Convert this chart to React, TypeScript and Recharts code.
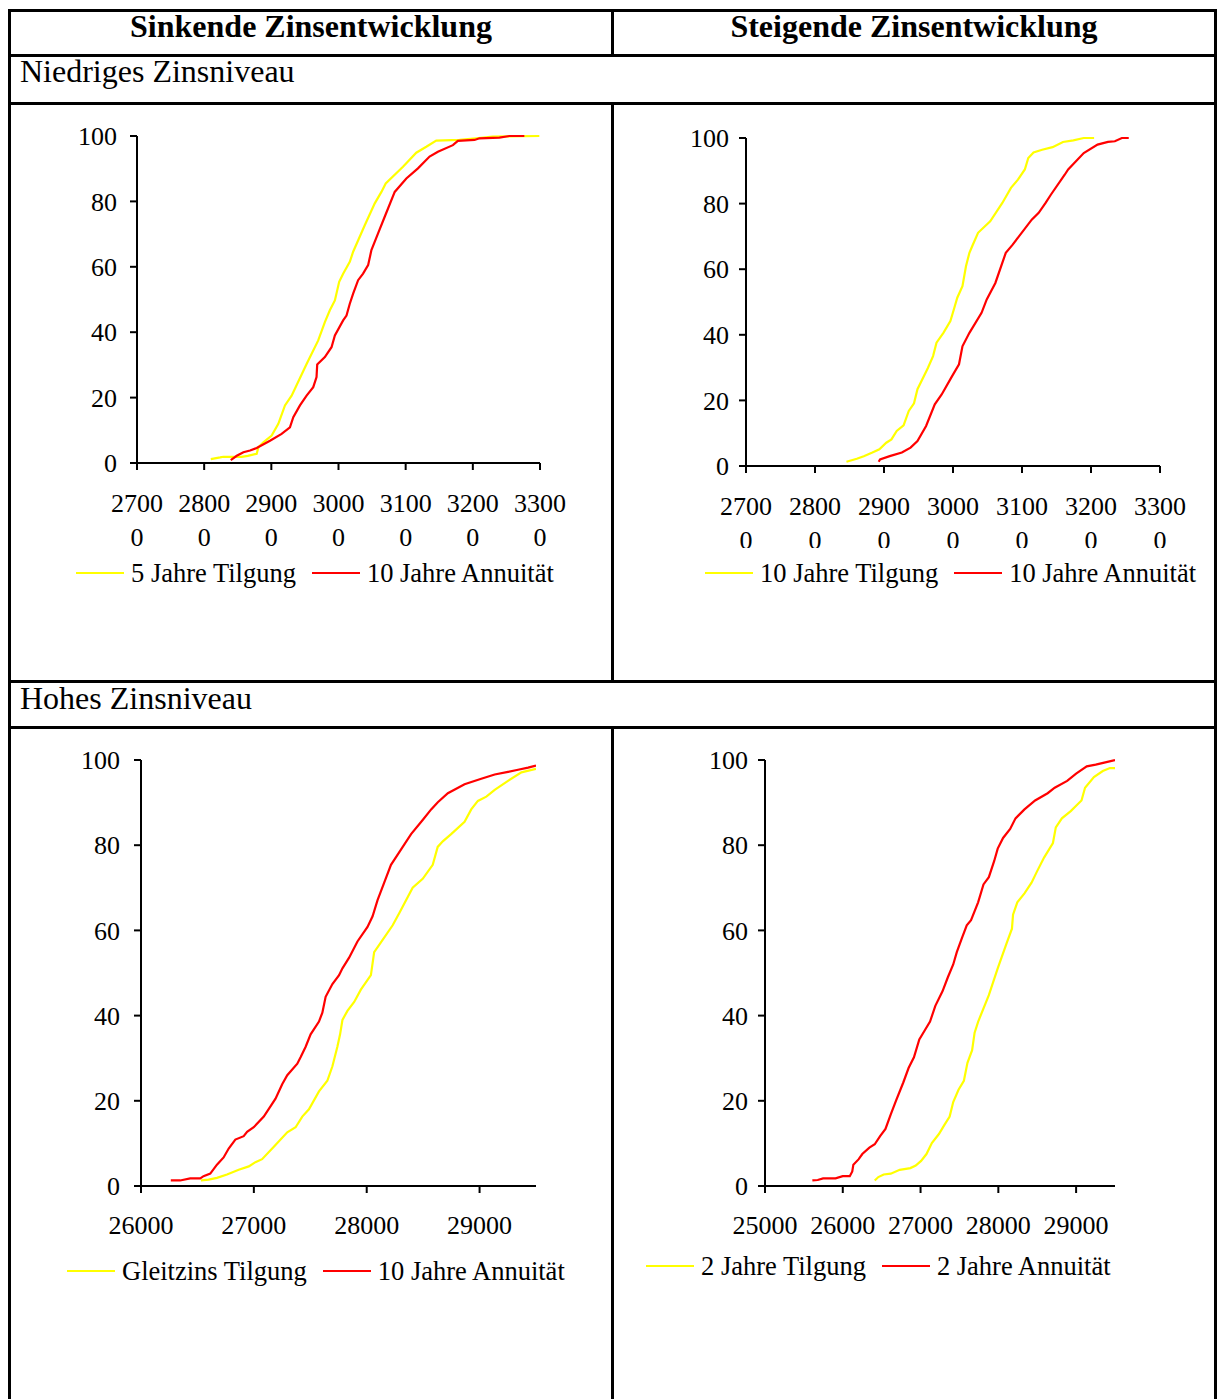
import React from "react";
import { LineChart, Line, XAxis, YAxis } from "recharts";

// Werte: [Betrag, kumulierte Häufigkeit in %]
const sinkNiedrigTilgung5: [number, number][] = [
  [28099, 1.2], [28238, 1.7], [28287, 1.9], [28559, 1.9], [28650, 2.2], [28782, 2.8], [28807, 4.8],
  [28881, 6.3], [29005, 8.4], [29104, 12], [29203, 17.6], [29302, 20.6], [29525, 30.3],
  [29698, 37.5], [29797, 43.1], [29871, 46.7], [29946, 49.7], [30010, 55.4], [30069, 57.9],
  [30168, 61.5], [30218, 64.6], [30391, 72.7], [30540, 79.4], [30639, 82.9], [30703, 85.5],
  [30960, 90.6], [31158, 94.9], [31307, 96.7], [31455, 98.6], [31802, 98.8], [32050, 99.3],
  [32297, 99.8], [32990, 100],
];
const sinkNiedrigAnnuitaet10: [number, number][] = [
  [28396, 0.9], [28485, 2.2], [28584, 3.3], [28683, 3.8], [28782, 4.6], [28980, 6.8],
  [29153, 8.9], [29277, 10.9], [29327, 14], [29426, 17.6], [29525, 20.6], [29624, 23.2],
  [29673, 26.3], [29683, 30.1], [29797, 32.4], [29896, 35.4], [29946, 39], [30069, 43.6],
  [30119, 45.1], [30168, 48.7], [30218, 51.8], [30292, 55.9], [30366, 57.9], [30441, 60.5],
  [30490, 65.1], [30589, 70.2], [30688, 75.3], [30837, 82.9], [31010, 87], [31183, 90.1],
  [31356, 93.7], [31480, 95.2], [31703, 97.2], [31777, 98.5], [32025, 98.8], [32099, 99.3],
  [32396, 99.5], [32545, 100], [32767, 100],
];

const steigNiedrigTilgung10: [number, number][] = [
  [28456, 1.3], [28606, 2.2], [28707, 3], [28832, 4.1], [28933, 5.1], [29033, 7.1],
  [29108, 8.1], [29184, 10.7], [29284, 12.4], [29359, 16.8], [29435, 19.1], [29485, 23.4],
  [29636, 29.9], [29711, 33.5], [29761, 37.6], [29861, 40.6], [29962, 44.2], [30012, 47.7],
  [30062, 51.3], [30137, 54.8], [30188, 60.9], [30238, 65], [30278, 67], [30363, 71.1],
  [30539, 74.6], [30715, 80.2], [30840, 84.8], [30941, 87.3], [31041, 90.4], [31091, 93.9],
  [31167, 95.6], [31292, 96.4], [31443, 97.2], [31594, 98.8], [31744, 99.3], [31895, 100],
  [32045, 100],
];
const steigNiedrigAnnuitaet10: [number, number][] = [
  [28923, 1.3], [28943, 2], [29083, 3], [29259, 4.1], [29385, 5.6], [29485, 7.6],
  [29610, 12.2], [29736, 18.8], [29836, 21.8], [29987, 27.4], [30087, 31], [30137, 36.5],
  [30238, 40.6], [30414, 46.7], [30489, 50.8], [30614, 55.8], [30765, 65], [30865, 67.5],
  [31141, 75.1], [31242, 77.2], [31342, 80.2], [31418, 82.7], [31619, 88.8], [31669, 90.4],
  [31895, 95.4], [32095, 98], [32246, 98.8], [32346, 99], [32447, 100], [32547, 100],
];

const sinkHochGleitzins: [number, number][] = [
  [26531, 1.3], [26599, 1.5], [26673, 1.9], [26762, 2.7], [26866, 3.8], [26955, 4.6],
  [27014, 5.6], [27073, 6.3], [27177, 9.2], [27296, 12.6], [27370, 13.8], [27429, 16.3],
  [27488, 18], [27577, 22.2], [27651, 24.7], [27696, 28.1], [27740, 32.7], [27764, 35.6],
  [27785, 39], [27829, 41.1], [27889, 43.2], [27948, 46.1], [28037, 49.5], [28066, 54.9],
  [28141, 57.8], [28230, 61.2], [28289, 64.1], [28407, 70], [28496, 72.1], [28585, 75.4],
  [28629, 79.6], [28674, 80.9], [28748, 82.6], [28867, 85.5], [28926, 88.4], [28985, 90.4],
  [29060, 91.4], [29134, 93], [29252, 95.1], [29371, 97.1], [29500, 97.9],
];
const sinkHochAnnuitaet10: [number, number][] = [
  [26264, 1.3], [26347, 1.3], [26436, 1.8], [26525, 1.8], [26554, 2.3], [26614, 2.9],
  [26673, 5], [26732, 6.7], [26777, 8.8], [26836, 10.9], [26910, 11.7], [26940, 12.7],
  [26999, 13.8], [27088, 16.3], [27192, 20.5], [27251, 23.9], [27296, 26], [27385, 28.7],
  [27414, 30.2], [27459, 32.7], [27503, 35.6], [27577, 38.6], [27607, 40.7], [27636, 44.4],
  [27696, 47.4], [27755, 49.5], [27785, 51.1], [27844, 53.6], [27918, 57.4], [28007, 60.8],
  [28052, 63.3], [28096, 67.1], [28155, 71.2], [28215, 75.4], [28393, 82.6], [28496, 85.9],
  [28571, 88.4], [28630, 90.1], [28719, 92.2], [28867, 94.3], [29015, 95.6], [29134, 96.6],
  [29252, 97.2], [29341, 97.7], [29430, 98.2], [29500, 98.7],
];

const steigHochTilgung2: [number, number][] = [
  [26411, 1.3], [26457, 2.1], [26526, 2.7], [26617, 2.9], [26732, 3.8], [26869, 4.2],
  [26938, 4.8], [27007, 5.9], [27076, 7.5], [27145, 10.1], [27236, 12.2], [27305, 14.3],
  [27374, 16.3], [27420, 19.7], [27488, 22.6], [27557, 24.7], [27603, 28.9], [27663, 31.9],
  [27695, 36], [27741, 38.6], [27878, 44.8], [27992, 51.1], [28107, 57], [28175, 60.4],
  [28189, 63.7], [28244, 66.6], [28336, 68.7], [28427, 71.2], [28496, 73.8], [28588, 77.1],
  [28702, 80.5], [28739, 84.2], [28817, 86.3], [28931, 88], [29069, 90.5], [29115, 93.5],
  [29229, 96], [29343, 97.4], [29435, 98.1], [29500, 98.1],
];
const steigHochAnnuitaet2: [number, number][] = [
  [25609, 1.3], [25678, 1.4], [25747, 1.8], [25907, 1.8], [25999, 2.3], [26090, 2.3],
  [26122, 3.4], [26136, 5], [26205, 6.3], [26251, 7.5], [26342, 9], [26411, 9.8],
  [26480, 11.7], [26549, 13.4], [26617, 16.8], [26686, 20.1], [26778, 24.3], [26846, 27.7],
  [26915, 30.2], [26984, 34.4], [27053, 36.5], [27122, 38.6], [27190, 42.3], [27282, 45.7],
  [27351, 49], [27420, 52], [27466, 54.9], [27534, 58.3], [27594, 61.2], [27649, 62.4],
  [27740, 66.6], [27809, 70.8], [27878, 72.5], [27947, 76.3], [27992, 79.2], [28061, 81.7],
  [28152, 83.8], [28221, 86.3], [28336, 88.4], [28473, 90.5], [28634, 92.2], [28725, 93.5],
  [28885, 95.1], [29000, 96.8], [29137, 98.5], [29252, 98.9], [29389, 99.5], [29500, 100],
];

const yTicks = [0, 20, 40, 60, 80, 100];
const xTicksNiedrig = [27000, 28000, 29000, 30000, 31000, 32000, 33000];
const xTicksHochSink = [26000, 27000, 28000, 29000];
const xTicksHochSteig = [25000, 26000, 27000, 28000, 29000];

const FONT = '"Liberation Serif", "Times New Roman", serif';
const YELLOW = "#ffff00";
const RED = "#ff0000";

const toRows = (pts: [number, number][]) => pts.map(([x, y]) => ({ x, y }));

// Excel hat die Beschriftungen umgebrochen: "2700" / "0"
const SplitTick = (props: any) => {
  const { x, y, payload } = props;
  const s = String(payload.value);
  return (
    <g fontFamily={FONT} fontSize={26} fill="#000">
      <text x={x} y={y + 40} textAnchor="middle">{s.slice(0, 4)}</text>
      <text x={x} y={y + 74} textAnchor="middle">{s.slice(4)}</text>
    </g>
  );
};

interface PanelProps {
  left: number;
  top: number;
  width: number;
  height: number;
  clipHeight?: number;
  yAxisWidth: number;
  margin: { top: number; right: number; bottom: number; left: number };
  xDomain: [number, number];
  xTicks: number[];
  split: boolean;
  yellow: [number, number][];
  red: [number, number][];
  yLabelGap: number;
}

function Panel(p: PanelProps) {
  return (
    <div
      style={{
        position: "absolute",
        left: p.left,
        top: p.top,
        width: p.width,
        height: p.clipHeight ?? p.height,
        overflow: "hidden",
      }}
    >
      <LineChart width={p.width} height={p.height} margin={p.margin}>
        <XAxis
          dataKey="x"
          type="number"
          domain={p.xDomain}
          ticks={p.xTicks}
          interval={0}
          stroke="#000"
          strokeWidth={2}
          tickSize={7}
          tickMargin={p.split ? 2 : 23}
          tick={p.split ? <SplitTick /> : { fill: "#000", fontSize: 26, fontFamily: FONT }}
          height={p.split ? 90 : 60}
          allowDataOverflow
        />
        <YAxis
          type="number"
          domain={[0, 100]}
          ticks={yTicks}
          interval={0}
          width={p.yAxisWidth}
          stroke="#000"
          strokeWidth={2}
          tickSize={7}
          tickMargin={p.yLabelGap}
          tick={{ fill: "#000", fontSize: 26, fontFamily: FONT }}
        />
        <Line
          data={toRows(p.yellow)}
          dataKey="y"
          type="linear"
          stroke={YELLOW}
          strokeWidth={2.2}
          dot={false}
          isAnimationActive={false}
        />
        <Line
          data={toRows(p.red)}
          dataKey="y"
          type="linear"
          stroke={RED}
          strokeWidth={2.2}
          dot={false}
          isAnimationActive={false}
        />
      </LineChart>
    </div>
  );
}

function LegendRow({ left, top, items }: { left: number; top: number; items: { label: string; color: string }[] }) {
  return (
    <div
      style={{
        position: "absolute",
        left,
        top,
        display: "flex",
        alignItems: "center",
        fontFamily: FONT,
        fontSize: 26.5,
        lineHeight: "30px",
        whiteSpace: "nowrap",
      }}
    >
      {items.map((it, i) => (
        <div key={i} style={{ display: "flex", alignItems: "center", marginRight: 16 }}>
          <div style={{ width: 48, height: 2, background: it.color, marginRight: 7 }} />
          <span>{it.label}</span>
        </div>
      ))}
    </div>
  );
}

const B = 3;
const line = (left: number, top: number, width: number, height: number) => (
  <div style={{ position: "absolute", left, top, width, height, background: "#000" }} />
);

export default function App() {
  return (
    <div style={{ position: "relative", width: 1222, height: 1399, background: "#fff", overflow: "hidden", fontFamily: FONT }}>
      <style>{`body{margin:0}`}</style>

      {/* Tabellenrahmen */}
      {line(8, 9, 1209, B)}
      {line(8, 54, 1209, B)}
      {line(8, 102, 1209, B)}
      {line(8, 680, 1209, B)}
      {line(8, 726, 1209, B)}
      {line(8, 9, B, 1390)}
      {line(1214, 9, B, 1390)}
      {line(611, 9, B, 46)}
      {line(611, 102, B, 580)}
      {line(611, 726, B, 673)}

      <div style={{ position: "absolute", left: 11, top: 9, width: 600, lineHeight: "34px", textAlign: "center", fontWeight: "bold", fontSize: 32 }}>
        Sinkende Zinsentwicklung
      </div>
      <div style={{ position: "absolute", left: 614, top: 9, width: 600, lineHeight: "34px", textAlign: "center", fontWeight: "bold", fontSize: 32 }}>
        Steigende Zinsentwicklung
      </div>
      <div style={{ position: "absolute", left: 20, top: 55, lineHeight: "32px", fontSize: 32 }}>Niedriges Zinsniveau</div>
      <div style={{ position: "absolute", left: 20, top: 682, lineHeight: "32px", fontSize: 32 }}>Hohes Zinsniveau</div>

      <Panel
        left={20}
        top={110}
        width={560}
        height={480}
        yAxisWidth={117}
        margin={{ top: 26, right: 40, bottom: 37, left: 0 }}
        xDomain={[27000, 33000]}
        xTicks={xTicksNiedrig}
        split
        yellow={sinkNiedrigTilgung5}
        red={sinkNiedrigAnnuitaet10}
        yLabelGap={13}
      />
      <LegendRow left={76} top={558} items={[{ label: "5 Jahre Tilgung", color: YELLOW }, { label: "10 Jahre Annuität", color: RED }]} />

      <Panel
        left={629}
        top={110}
        width={561}
        height={480}
        clipHeight={438}
        yAxisWidth={117}
        margin={{ top: 28, right: 30, bottom: 34, left: 0 }}
        xDomain={[27000, 33000]}
        xTicks={xTicksNiedrig}
        split
        yellow={steigNiedrigTilgung10}
        red={steigNiedrigAnnuitaet10}
        yLabelGap={10}
      />
      <LegendRow left={705} top={558} items={[{ label: "10 Jahre Tilgung", color: YELLOW }, { label: "10 Jahre Annuität", color: RED }]} />

      <Panel
        left={20}
        top={730}
        width={560}
        height={516}
        yAxisWidth={121}
        margin={{ top: 30, right: 44, bottom: 0, left: 0 }}
        xDomain={[26000, 29500]}
        xTicks={xTicksHochSink}
        split={false}
        yellow={sinkHochGleitzins}
        red={sinkHochAnnuitaet10}
        yLabelGap={14}
      />
      <LegendRow left={67} top={1256} items={[{ label: "Gleitzins Tilgung", color: YELLOW }, { label: "10 Jahre Annuität", color: RED }]} />

      <Panel
        left={640}
        top={730}
        width={520}
        height={516}
        yAxisWidth={125}
        margin={{ top: 30, right: 45, bottom: 0, left: 0 }}
        xDomain={[25000, 29500]}
        xTicks={xTicksHochSteig}
        split={false}
        yellow={steigHochTilgung2}
        red={steigHochAnnuitaet2}
        yLabelGap={10}
      />
      <LegendRow left={646} top={1251} items={[{ label: "2 Jahre Tilgung", color: YELLOW }, { label: "2 Jahre Annuität", color: RED }]} />
    </div>
  );
}
